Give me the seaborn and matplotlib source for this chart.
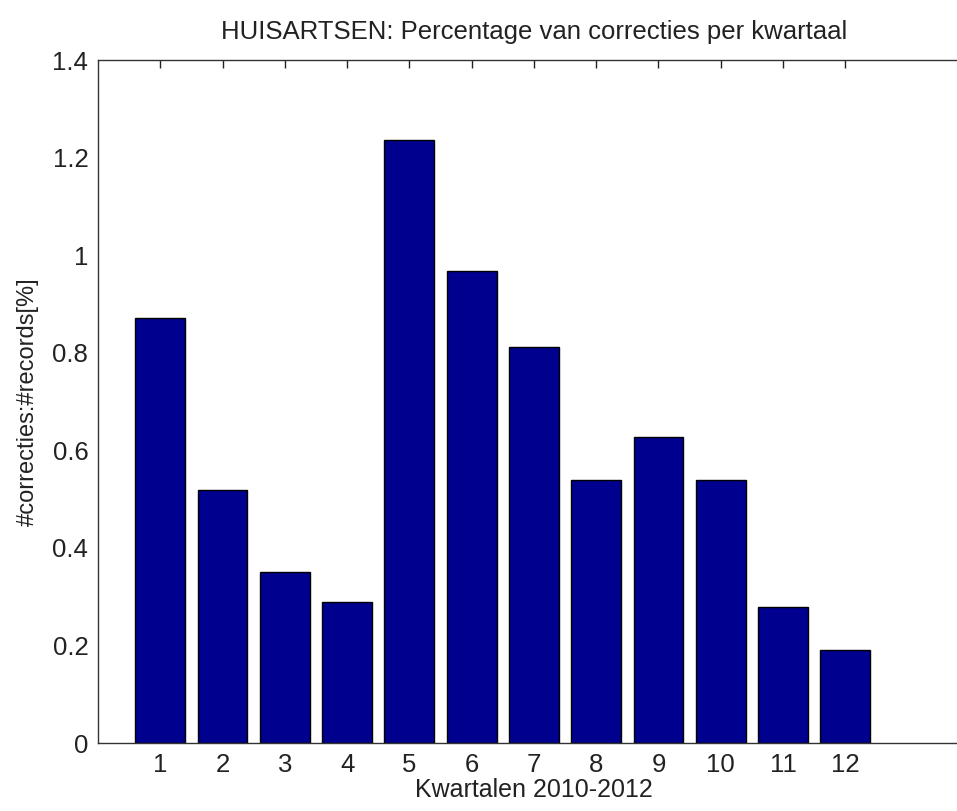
import numpy as np
import pandas as pd
import matplotlib
matplotlib.use("Agg")
import matplotlib.pyplot as plt
import seaborn as sns
from matplotlib.ticker import FuncFormatter

# data
kwartalen = [str(i) for i in range(1, 13)]
percentages = [0.872, 0.519, 0.351, 0.289, 1.237, 0.967, 0.811, 0.540, 0.628, 0.540, 0.279, 0.191]
y_ticks = [0, 0.2, 0.4, 0.6, 0.8, 1.0, 1.2, 1.4]

sns.set_theme(style="white")
plt.rcParams.update({
    "font.family": ["Liberation Sans", "DejaVu Sans"],
    "axes.edgecolor": "#333333",
    "axes.linewidth": 1.0,
})

df = pd.DataFrame({"kwartaal": kwartalen, "pct": percentages})

fig = plt.figure(figsize=(9.57, 8.11), dpi=100)
# axes extends a little past the right border, as in the cropped original
ax = fig.add_axes([0.1024, 0.0838, 0.911, 0.842])
sns.barplot(data=df, x="kwartaal", y="pct", ax=ax, color="#00008F",
            saturation=1, width=0.8, edgecolor="black", linewidth=1.0)

ax.set_xlim(-1, 13)
ax.set_ylim(0, 1.4)
ax.set_yticks(y_ticks)
ax.yaxis.set_major_formatter(FuncFormatter(lambda v, p: f"{v:g}"))
ax.tick_params(direction="in", length=6, width=1, colors="#222222",
               top=True, right=True, labelsize=18.5, pad=7)
for s in ["top", "bottom", "left", "right"]:
    ax.spines[s].set_visible(True)
    ax.spines[s].set_color("#333333")

ax.set_xlabel("Kwartalen 2010-2012", fontsize=18, color="#222222", labelpad=1)
ax.set_ylabel("#correcties:#records[%]", fontsize=17, color="#222222", labelpad=10)
ax.set_title("HUISARTSEN: Percentage van correcties per kwartaal", fontsize=18.5,
             color="#222222", pad=15)

fig.savefig("out.png", dpi=100)
